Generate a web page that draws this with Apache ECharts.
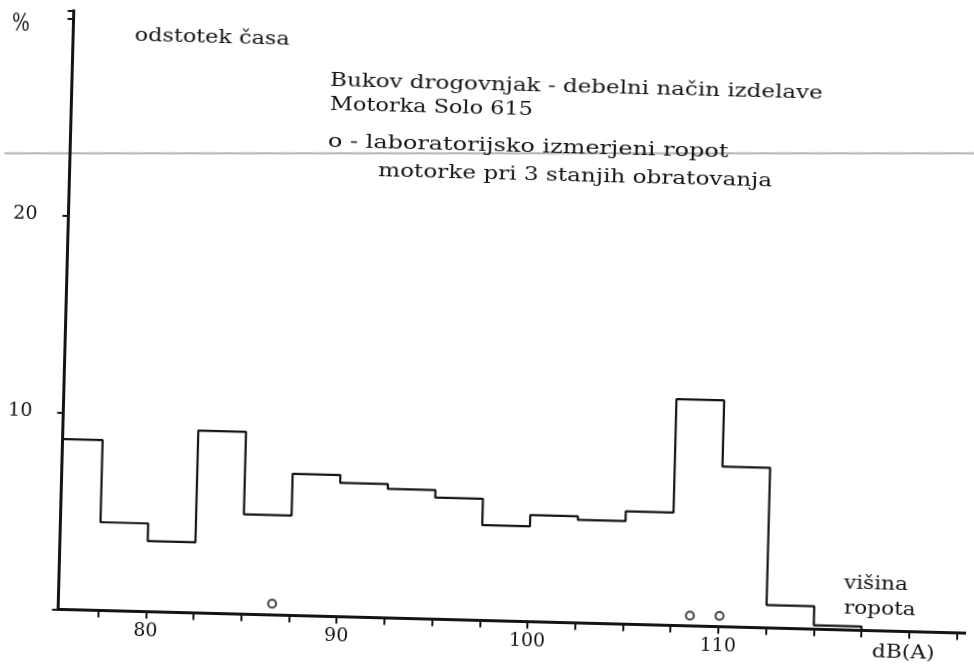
<!DOCTYPE html>
<html>
<head>
<meta charset="utf-8">
<script src="https://cdn.jsdelivr.net/npm/echarts@6/dist/echarts.min.js"></script>
<style>
  html, body { margin: 0; padding: 0; background: #fff; overflow: hidden; }
  #chart { position: absolute; left: 0; top: 0; width: 974px; height: 665px;
           transform: rotate(1.5deg); transform-origin: 50% 50%; }
</style>
</head>
<body>
<div id="chart"></div>
<script>
// ---- data ----
const binEdges = [75, 77.5, 80, 82.5, 85, 87.5, 90, 92.5, 95, 97.5, 100, 102.5, 105, 107.5, 110, 112.5, 115, 117.5];
const timeShare = [8.65, 4.48, 3.58, 9.26, 5.07, 7.19, 6.8, 6.55, 6.17, 4.84, 5.41, 5.23, 5.73, 11.49, 8.13, 1.16, 0.2];
const labNoiseDb = [86.6, 108.5, 110.05];
const labNoiseLevel = [0.57, 0.52, 0.55];
const xTickValues = [77.5, 80, 82.5, 85, 87.5, 90, 92.5, 95, 97.5, 100, 102.5, 105, 107.5, 110, 112.5, 115, 117.5, 120, 122.5];
const xLabelValues = [80, 90, 100, 110];
const yLabelValues = [10, 20];

const FONT = '"DejaVu Serif", serif';
const INK = '#141414';

const stepData = binEdges.map((e, i) => [e, i < timeShare.length ? timeShare[i] : 0]);
const labData = labNoiseDb.map((d, i) => [d, labNoiseLevel[i]]);

function txt(text, x, y, size, sx) {
  return {
    type: 'text', x: x, y: y, scaleX: sx, scaleY: 1, silent: true,
    style: { text: text, x: 0, y: 0, fill: INK, font: size + 'px ' + FONT,
             align: 'left', verticalAlign: 'middle' }
  };
}

const chart = echarts.init(document.getElementById('chart'), null, { renderer: 'canvas' });
chart.setOption({
  animation: false,
  backgroundColor: '#fff',
  grid: { left: 65.5, right: 0, top: 21.6, bottom: 44.5, containLabel: false },
  xAxis: {
    type: 'value', min: 75.4, max: 123,
    axisLine: { show: true, onZero: true, lineStyle: { color: INK, width: 3 } },
    axisTick: { show: true, inside: false, length: 7, lineStyle: { color: INK, width: 2 },
                customValues: xTickValues },
    axisLabel: { show: true, customValues: xLabelValues, margin: 10, color: INK,
                 fontFamily: FONT, fontSize: 19 },
    splitLine: { show: false }
  },
  yAxis: {
    type: 'value', min: 0, max: 30.4, interval: 10,
    axisLine: { show: true, lineStyle: { color: INK, width: 3 } },
    axisTick: { show: true, inside: false, length: 6, lineStyle: { color: INK, width: 2 } },
    axisLabel: { show: true, margin: 31, color: INK, fontFamily: FONT, fontSize: 19,
                 formatter: v => (yLabelValues.indexOf(v) >= 0 ? String(v) : '') },
    splitLine: { show: false }
  },
  series: [
    {
      type: 'line', step: 'end', data: stepData, showSymbol: false, clip: true,
      lineStyle: { color: INK, width: 2.2 }, silent: true
    },
    {
      type: 'scatter', data: labData, symbol: 'circle', symbolSize: 8,
      itemStyle: { color: '#fff', borderColor: INK, borderWidth: 2 }, silent: true
    }
  ],
  graphic: [
    { type: 'line', silent: true, z: -1,
      shape: { x1: -20, y1: 166.5, x2: 1000, y2: 139.8 },
      style: { stroke: '#b4b4b4', lineWidth: 2 } },
    txt('%', 4, 36, 25, 0.75),
    txt('odstotek časa', 127, 45, 18, 1.24),
    txt('Bukov drogovnjak - debelni način izdelave', 323.5, 85, 18, 1.278),
    txt('Motorka Solo 615', 324, 109.5, 18, 1.245),
    txt('o - laboratorijsko izmerjeni ropot', 323, 146, 18, 1.33),
    txt('motorke pri 3 stanjih obratovanja', 374, 174, 18, 1.285),
    txt('višina', 850.5, 574.6, 18, 1.2),
    txt('ropota', 851, 599.6, 18, 1.2),
    txt('dB(A)', 880, 642, 18, 1.21)
  ]
});
</script>
</body>
</html>
